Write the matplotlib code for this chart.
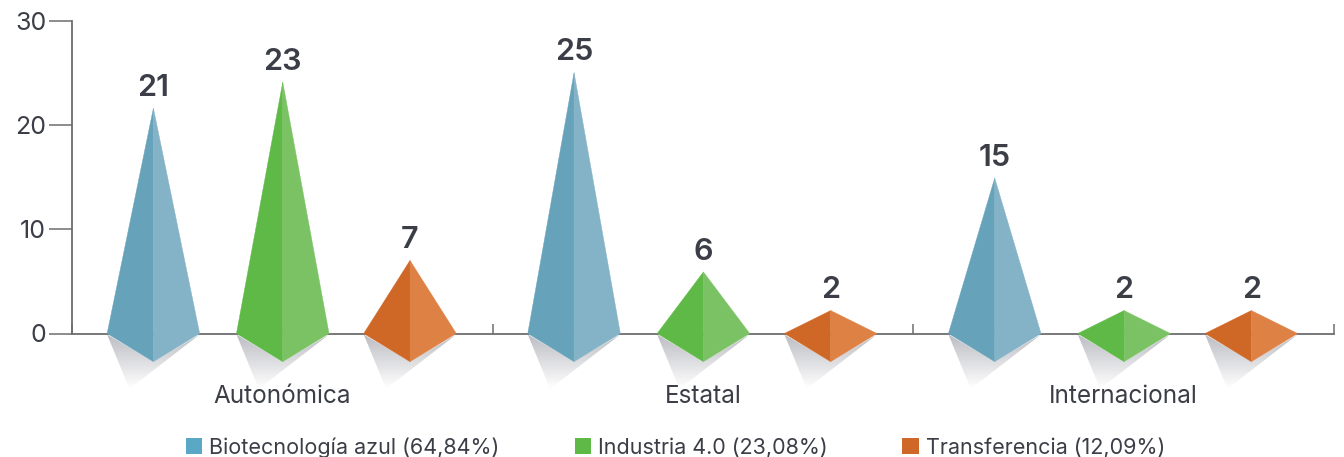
import numpy as np
import matplotlib
matplotlib.use("Agg")
import matplotlib.pyplot as plt
from matplotlib.patches import Polygon, Patch
from matplotlib.colors import LinearSegmentedColormap

categories = ["Autonómica", "Estatal", "Internacional"]
series_names = ["Biotecnología azul (64,84%)", "Industria 4.0 (23,08%)", "Transferencia (12,09%)"]
# printed values
biotecnologia = [21, 25, 15]
industria = [23, 6, 2]
transferencia = [7, 2, 2]
# apex heights as drawn in the picture
biotecnologia_tip = [21.6, 25.0, 14.9]
industria_tip = [24.1, 5.9, 2.2]
transferencia_tip = [7.0, 2.2, 2.2]
y_ticks = [0, 10, 20, 30]

dark = ["#66a3bb", "#5fb947", "#cf6826"]
light = ["#84b2c6", "#7ac264", "#dd8145"]
legend_c = ["#5aa7c6", "#5fb947", "#cf6826"]
ink = "#3c3e47"
axis_c = "#6d6d70"
plt.rcParams["font.family"] = ["Inter", "DejaVu Sans"]

W, H = 1344, 457
fig = plt.figure(figsize=(W / 100, H / 100), dpi=100)
ax = fig.add_axes([72 / W, 1 - 333.5 / H, (1334 - 72) / W, 313 / H])
for s in ["top", "right"]:
    ax.spines[s].set_visible(False)
for s in ["left", "bottom"]:
    ax.spines[s].set_color(axis_c)
    ax.spines[s].set_linewidth(1.3)

ax.set_yticks(y_ticks)
ax.tick_params(axis="y", length=16.5, width=1.1, color=axis_c, labelsize=18, labelcolor=ink, pad=2)
ax.set_xticks([0, 1, 2])
ax.set_xticklabels(categories)
ax.tick_params(axis="x", length=0, labelsize=17.5, labelcolor=ink, pad=37)
ax.set_xticks([-0.5, 0.5, 1.5, 2.5], minor=True)
ax.tick_params(axis="x", which="minor", direction="in", length=7, width=1.1, color=axis_c)

offsets = [-0.3065, 0.001, 0.3035]
half = 0.11
depth = -2.7
shadow_y = -5.3
shadow_cmap = LinearSegmentedColormap.from_list("s", ["#bcbdc3", "#ffffff"])
values = [biotecnologia, industria, transferencia]
tips = [biotecnologia_tip, industria_tip, transferencia_tip]
for si, vals in enumerate(values):
    for ci, v in enumerate(vals):
        c = ci + offsets[si]
        t = tips[si][ci]
        sh = Polygon([(c - half, -0.1), (c, depth), (c + half, -0.1), (c - 0.057, shadow_y)],
                     closed=True, transform=ax.transData, fc="none", ec="none", clip_on=False)
        ax.add_patch(sh)
        im = ax.imshow(np.linspace(0, 1, 64).reshape(-1, 1), cmap=shadow_cmap, aspect="auto",
                       extent=(c - half, c + half, shadow_y, -0.1), origin="upper", zorder=1)
        im.set_clip_path(sh)
        im.set_clip_box(fig.bbox)
        ax.add_patch(Polygon([(c - half, 0), (c, t), (c, depth)], closed=True, fc=dark[si], ec=dark[si],
                             lw=0.3, clip_on=False, zorder=3))
        ax.add_patch(Polygon([(c + half, 0), (c, t), (c, depth)], closed=True, fc=light[si], ec=light[si],
                             lw=0.3, clip_on=False, zorder=3))
        ax.annotate(str(v), (c, t), xytext=(0, 4.5), textcoords="offset points", ha="center", va="bottom",
                    fontsize=22, fontweight=600, color=ink, zorder=4, annotation_clip=False)
ax.set_xlim(-0.5, 2.5)
ax.set_ylim(0, 30)

handles = [Patch(fc=legend_c[i], ec="none", label=series_names[i]) for i in range(3)]
fig.legend(handles=handles, loc="center", bbox_to_anchor=(675.5 / W, 1 - 447.5 / H), ncol=3, frameon=False,
           fontsize=15.5, labelcolor=ink, handlelength=0.75, handleheight=0.75, handletextpad=0.33,
           columnspacing=3.48, borderpad=0)
fig.savefig("out.png", dpi=100)
